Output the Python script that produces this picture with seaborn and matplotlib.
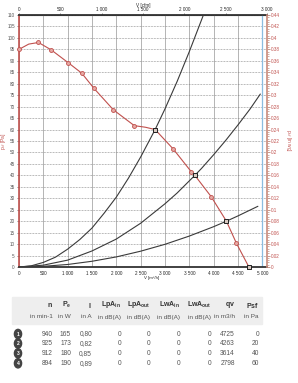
import numpy as np
import pandas as pd
import seaborn as sns
import matplotlib.pyplot as plt
from matplotlib.patches import Rectangle, Circle

# === DANE ===
# charakterystyka wentylatora (odczyt z wykresu), q w m3/h, p w Pa
fan_q = [0, 200, 400, 660, 1010, 1290, 1540, 1940, 2370, 2600, 2798, 3170, 3540, 3614, 3950, 4263, 4470, 4725]
fan_p = [95, 97.3, 98, 94.8, 89.2, 84.6, 78, 68.6, 61.7, 61, 60, 51.5, 41.6, 40, 30.7, 20, 10.3, 0]
marker_q = [0, 400, 660, 1010, 1290, 1540, 1940, 2370, 3170, 3540, 3950, 4470]
marker_p = [95, 98, 94.8, 89.2, 84.6, 78, 68.6, 61.7, 51.5, 41.6, 30.7, 10.3]

# krzywe instalacji (odczyt z wykresu)
sys_a_q = [0, 250, 500, 750, 1000, 1250, 1500, 1750, 2000, 2250, 2500, 2798, 3000, 3250, 3500, 3790]
sys_a_p = [0, 0.5, 2, 4.3, 7.8, 12, 17, 23.5, 30.5, 38.8, 48, 60, 69, 81, 94, 110]
sys_b_q = [0, 500, 1000, 1500, 2000, 2500, 3000, 3250, 3614, 3750, 4000, 4250, 4500, 4750, 4960]
sys_b_p = [0, 0.8, 3, 7, 12.2, 19.1, 27.6, 32.3, 40, 43, 49, 55.3, 62, 69, 75.5]
sys_c_q = [0, 500, 1000, 1500, 2000, 2500, 3000, 3500, 4000, 4263, 4500, 4910]
sys_c_p = [0, 0.3, 1.1, 2.5, 4.4, 6.9, 9.9, 13.5, 17.6, 20, 22.3, 26.5]

# tabela punktów pracy
row_id = ["1", "2", "3", "4"]
n_rpm = [940, 925, 912, 894]
pe_w = [165, 173, 180, 190]
i_a = ["0,80", "0,82", "0,85", "0,89"]
lpa_in = [0, 0, 0, 0]
lpa_out = [0, 0, 0, 0]
lwa_in = [0, 0, 0, 0]
lwa_out = [0, 0, 0, 0]
qv = [4725, 4263, 3614, 2798]
psf = [0, 20, 40, 60]

headers = [r"$\mathbf{n}$", r"$\mathbf{P_e}$", r"$\mathbf{I}$",
           r"$\mathbf{LpA}_{\mathbf{in}}$", r"$\mathbf{LpA}_{\mathbf{out}}$",
           r"$\mathbf{LwA}_{\mathbf{in}}$", r"$\mathbf{LwA}_{\mathbf{out}}$",
           r"$\mathbf{qv}$", r"$\mathbf{Psf}$"]
units = ["in min-1", "in W", "in A", "in dB(A)", "in dB(A)", "in dB(A)", "in dB(A)", "in m3/h", "in Pa"]

bottom_ticks = list(range(0, 5001, 500))
top_ticks = list(range(0, 3001, 500))
left_ticks = list(range(0, 111, 5))
right_ticks = [round(v * 0.02, 2) for v in range(23)]

# === STYL ===
sns.set_style("white")
plt.rcParams["font.family"] = ["Liberation Sans", "DejaVu Sans"]
plt.rcParams["mathtext.fontset"] = "custom"
plt.rcParams["mathtext.rm"] = "Liberation Sans"
plt.rcParams["mathtext.bf"] = "Liberation Sans:bold"

RED = "#c0504d"
W, H = 298, 383


def fx(x):
    return x / W


def fy(y):
    return 1 - y / H


def fmt(v):
    return f"{v:,}".replace(",", " ")


fig = plt.figure(figsize=(W / 100, H / 100), dpi=100)
ax = fig.add_axes([fx(19), fy(267), 248 / W, 252 / H])

QMAX = 3000 * 1.699
ax.set_xlim(0, QMAX)
ax.set_ylim(0, 110)

ax.set_xticks(bottom_ticks)
ax.set_xticklabels([fmt(v) for v in bottom_ticks], fontsize=3.3)
ax.set_yticks(left_ticks)
ax.set_yticklabels([str(v) for v in left_ticks], fontsize=3.3, color="#555555")
ax.tick_params(axis="both", length=1.5, width=0.4, pad=1.5)
ax.grid(axis="x", color="#a8a8a8", lw=0.6)
ax.grid(axis="y", color="#777777", lw=0.5, ls=(0, (1, 1.2)))

for side in ["top", "bottom"]:
    ax.spines[side].set_color("#333333")
    ax.spines[side].set_linewidth(1.3)
ax.spines["left"].set_color(RED)
ax.spines["left"].set_linewidth(1.2)
ax.spines["right"].set_visible(False)

ax.axvline(5000, color="#8bbde0", lw=0.9, zorder=1)

# krzywe instalacji
for q, p in [(sys_a_q, sys_a_p), (sys_b_q, sys_b_p), (sys_c_q, sys_c_p)]:
    sns.lineplot(x=q, y=p, ax=ax, color="#3a3a3a", lw=0.8, sort=False, zorder=3)

# charakterystyka wentylatora
sns.lineplot(x=fan_q, y=fan_p, ax=ax, color=RED, lw=0.8, sort=False, zorder=4)
sns.scatterplot(x=marker_q, y=marker_p, ax=ax, marker="o", s=8, color="#e7a9a4",
                edgecolor=RED, linewidth=0.6, zorder=5, clip_on=False)
sns.scatterplot(x=qv, y=psf, ax=ax, marker="s", s=9, color="#d9c8c0",
                edgecolor="#222222", linewidth=0.7, zorder=6, clip_on=False)

# oś górna w cfm
top = ax.secondary_xaxis("top", functions=(lambda q: q / 1.699, lambda c: c * 1.699))
top.set_xticks(top_ticks)
top.set_xticklabels([fmt(v) for v in top_ticks], fontsize=3.3)
top.tick_params(length=1.5, width=0.4, pad=1)

# oś prawa w in wg
ax2 = ax.twinx()
ax2.set_ylim(0, 0.44)
ax2.set_yticks(right_ticks)
ax2.set_yticklabels([f"{v:g}" for v in right_ticks], fontsize=3.3, color=RED)
ax2.set_yticks(np.arange(0, 0.4401, 0.004), minor=True)
ax2.tick_params(axis="y", which="major", length=2, width=0.5, color="#b07060", pad=1)
ax2.tick_params(axis="y", which="minor", length=1.2, width=0.4, color="#b07060")
for side in ["top", "bottom", "left"]:
    ax2.spines[side].set_visible(False)
ax2.spines["right"].set_color("#c98b7c")
ax2.spines["right"].set_linewidth(1.2)

# opisy osi
fig.text(fx(4), fy(141), r"p$_{sf}$ [Pa]", rotation=90, color=RED, fontsize=3.5,
         ha="center", va="center")
fig.text(fx(288), fy(141), r"p$_{sf}$ [in wg]", rotation=270, color=RED, fontsize=3.5,
         ha="center", va="center")
fig.text(fx(152), fy(278.5), "V [m³/h]", fontsize=3.2, ha="center", va="center")
fig.text(fx(143), fy(5), "V [cfm]", fontsize=3.3, ha="center", va="center")

# === TABELA ===
fig.patches.append(Rectangle((fx(12), fy(324)), (262 - 12) / W, (324 - 297) / H,
                             transform=fig.transFigure, color="#eeeeee", zorder=0))
col_x = [53, 71, 92, 121, 150, 180, 211, 235, 259]
for x, h, u in zip(col_x, headers, units):
    fig.text(fx(x), fy(305), h, fontsize=5, color="#333333", ha="right", va="center")
    fig.text(fx(x), fy(317), u, fontsize=4.6, color="#555555", ha="right", va="center")

row_y = [334, 343.5, 353.3, 363.3]
for k, y in enumerate(row_y):
    fig.patches.append(Circle((fx(18), fy(y)), 3.6 / W, transform=fig.transFigure,
                              color="#444444"))
    fig.text(fx(18), fy(y), row_id[k], fontsize=3.6, color="white", weight="bold",
             ha="center", va="center")
    vals = [n_rpm[k], pe_w[k], i_a[k], lpa_in[k], lpa_out[k], lwa_in[k], lwa_out[k], qv[k], psf[k]]
    for x, v in zip(col_x, vals):
        fig.text(fx(x), fy(y), str(v), fontsize=4.8, color="#555555", ha="right", va="center")

fig.savefig("out.png", dpi=100)
